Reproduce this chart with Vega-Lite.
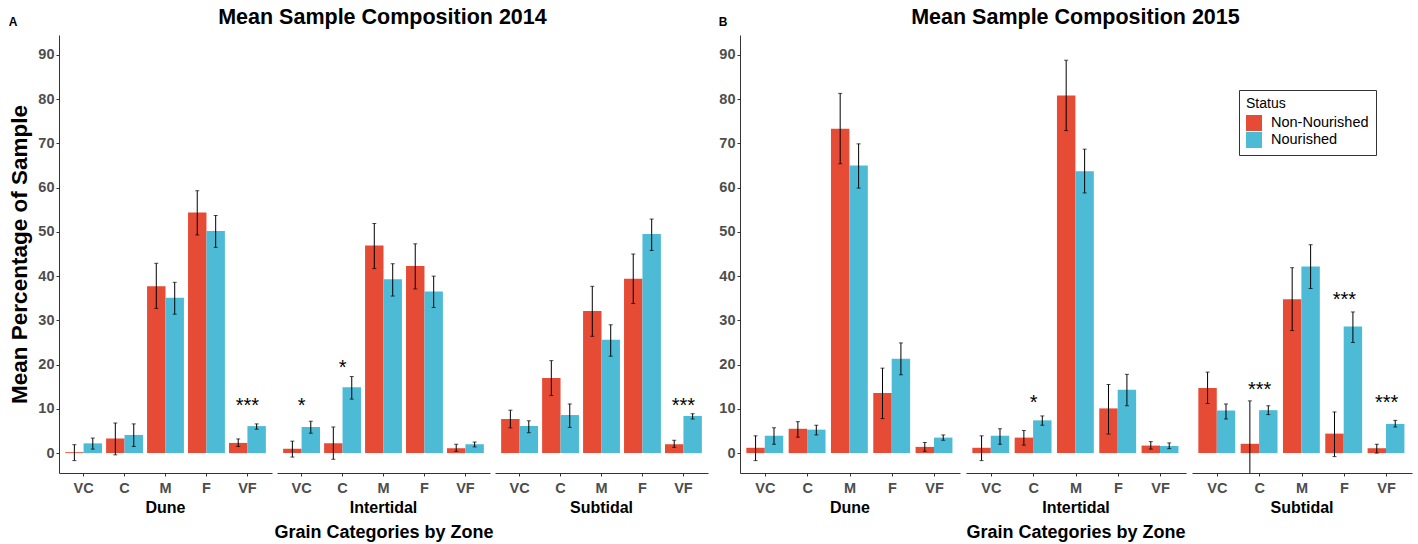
{
  "$schema": "https://vega.github.io/schema/vega-lite/v6.json",
  "padding": {"left": 8, "top": 6, "right": 4, "bottom": 0},
  "config": {
    "font": "Liberation Sans",
    "view": {"stroke": null},
    "axis": {"labelFont": "Liberation Sans", "labelFontWeight": "bold", "labelColor": "#4d4d4d", "labelFontSize": 14.5, "tickColor": "#333333", "tickSize": 3, "domainColor": "#333333", "grid": false, "titleFontWeight": "bold", "titleColor": "black", "titleFont": "Liberation Sans"},
    "title": {"font": "Liberation Sans", "fontWeight": "bold", "color": "black"},
    "header": {"labelFont": "Liberation Sans", "labelFontWeight": "bold", "labelFontSize": 16, "labelColor": "black", "labelOrient": "bottom", "titleOrient": "bottom", "titleFont": "Liberation Sans", "titleFontWeight": "bold", "titleFontSize": 18, "titleColor": "black", "labelPadding": 5, "titlePadding": -2}
  },
  "datasets": {
    "d": [
      {"panel": "A", "zone": "Dune", "grain": "VC", "status": "Non-Nourished", "mean": 0.2, "lo": -1.7, "hi": 1.9},
      {"panel": "A", "zone": "Dune", "grain": "VC", "status": "Nourished", "mean": 2.2, "lo": 0.9, "hi": 3.4},
      {"panel": "A", "zone": "Dune", "grain": "C", "status": "Non-Nourished", "mean": 3.3, "lo": -0.4, "hi": 6.8},
      {"panel": "A", "zone": "Dune", "grain": "C", "status": "Nourished", "mean": 4.1, "lo": 1.5, "hi": 6.6},
      {"panel": "A", "zone": "Dune", "grain": "M", "status": "Non-Nourished", "mean": 37.7, "lo": 32.7, "hi": 42.9},
      {"panel": "A", "zone": "Dune", "grain": "M", "status": "Nourished", "mean": 35.1, "lo": 31.4, "hi": 38.6},
      {"panel": "A", "zone": "Dune", "grain": "F", "status": "Non-Nourished", "mean": 54.4, "lo": 49.3, "hi": 59.3},
      {"panel": "A", "zone": "Dune", "grain": "F", "status": "Nourished", "mean": 50.2, "lo": 46.5, "hi": 53.7},
      {"panel": "A", "zone": "Dune", "grain": "VF", "status": "Non-Nourished", "mean": 2.3, "lo": 1.5, "hi": 3.2},
      {"panel": "A", "zone": "Dune", "grain": "VF", "status": "Nourished", "mean": 6.1, "lo": 5.4, "hi": 6.6},
      {"panel": "A", "zone": "Intertidal", "grain": "VC", "status": "Non-Nourished", "mean": 1.0, "lo": -0.9, "hi": 2.7},
      {"panel": "A", "zone": "Intertidal", "grain": "VC", "status": "Nourished", "mean": 5.9, "lo": 4.5, "hi": 7.2},
      {"panel": "A", "zone": "Intertidal", "grain": "C", "status": "Non-Nourished", "mean": 2.2, "lo": -1.4, "hi": 5.9},
      {"panel": "A", "zone": "Intertidal", "grain": "C", "status": "Nourished", "mean": 14.9, "lo": 12.2, "hi": 17.3},
      {"panel": "A", "zone": "Intertidal", "grain": "M", "status": "Non-Nourished", "mean": 46.9, "lo": 41.7, "hi": 51.9},
      {"panel": "A", "zone": "Intertidal", "grain": "M", "status": "Nourished", "mean": 39.3, "lo": 35.5, "hi": 42.8},
      {"panel": "A", "zone": "Intertidal", "grain": "F", "status": "Non-Nourished", "mean": 42.3, "lo": 37.1, "hi": 47.3},
      {"panel": "A", "zone": "Intertidal", "grain": "F", "status": "Nourished", "mean": 36.5, "lo": 32.9, "hi": 40.0},
      {"panel": "A", "zone": "Intertidal", "grain": "VF", "status": "Non-Nourished", "mean": 1.1, "lo": 0.4, "hi": 2.0},
      {"panel": "A", "zone": "Intertidal", "grain": "VF", "status": "Nourished", "mean": 2.0, "lo": 1.4, "hi": 2.5},
      {"panel": "A", "zone": "Subtidal", "grain": "VC", "status": "Non-Nourished", "mean": 7.7, "lo": 5.7, "hi": 9.7},
      {"panel": "A", "zone": "Subtidal", "grain": "VC", "status": "Nourished", "mean": 6.1, "lo": 4.6, "hi": 7.3},
      {"panel": "A", "zone": "Subtidal", "grain": "C", "status": "Non-Nourished", "mean": 17.0, "lo": 13.0, "hi": 20.9},
      {"panel": "A", "zone": "Subtidal", "grain": "C", "status": "Nourished", "mean": 8.6, "lo": 5.8, "hi": 11.1},
      {"panel": "A", "zone": "Subtidal", "grain": "M", "status": "Non-Nourished", "mean": 32.1, "lo": 26.4, "hi": 37.7},
      {"panel": "A", "zone": "Subtidal", "grain": "M", "status": "Nourished", "mean": 25.6, "lo": 21.9, "hi": 29.0},
      {"panel": "A", "zone": "Subtidal", "grain": "F", "status": "Non-Nourished", "mean": 39.4, "lo": 33.8, "hi": 45.0},
      {"panel": "A", "zone": "Subtidal", "grain": "F", "status": "Nourished", "mean": 49.5, "lo": 45.8, "hi": 52.9},
      {"panel": "A", "zone": "Subtidal", "grain": "VF", "status": "Non-Nourished", "mean": 2.0, "lo": 1.3, "hi": 2.9},
      {"panel": "A", "zone": "Subtidal", "grain": "VF", "status": "Nourished", "mean": 8.4, "lo": 7.7, "hi": 8.9},
      {"panel": "B", "zone": "Dune", "grain": "VC", "status": "Non-Nourished", "mean": 1.2, "lo": -1.7, "hi": 3.9},
      {"panel": "B", "zone": "Dune", "grain": "VC", "status": "Nourished", "mean": 3.9, "lo": 2.0, "hi": 5.7},
      {"panel": "B", "zone": "Dune", "grain": "C", "status": "Non-Nourished", "mean": 5.5, "lo": 3.6, "hi": 7.1},
      {"panel": "B", "zone": "Dune", "grain": "C", "status": "Nourished", "mean": 5.3, "lo": 4.1, "hi": 6.3},
      {"panel": "B", "zone": "Dune", "grain": "M", "status": "Non-Nourished", "mean": 73.3, "lo": 65.4, "hi": 81.3},
      {"panel": "B", "zone": "Dune", "grain": "M", "status": "Nourished", "mean": 65.0, "lo": 59.9, "hi": 69.9},
      {"panel": "B", "zone": "Dune", "grain": "F", "status": "Non-Nourished", "mean": 13.6, "lo": 7.8, "hi": 19.2},
      {"panel": "B", "zone": "Dune", "grain": "F", "status": "Nourished", "mean": 21.3, "lo": 17.7, "hi": 24.9},
      {"panel": "B", "zone": "Dune", "grain": "VF", "status": "Non-Nourished", "mean": 1.4, "lo": 0.4, "hi": 2.4},
      {"panel": "B", "zone": "Dune", "grain": "VF", "status": "Nourished", "mean": 3.5, "lo": 2.9, "hi": 4.1},
      {"panel": "B", "zone": "Intertidal", "grain": "VC", "status": "Non-Nourished", "mean": 1.2, "lo": -1.7, "hi": 3.9},
      {"panel": "B", "zone": "Intertidal", "grain": "VC", "status": "Nourished", "mean": 3.9, "lo": 2.0, "hi": 5.5},
      {"panel": "B", "zone": "Intertidal", "grain": "C", "status": "Non-Nourished", "mean": 3.5, "lo": 1.8, "hi": 5.1},
      {"panel": "B", "zone": "Intertidal", "grain": "C", "status": "Nourished", "mean": 7.4, "lo": 6.3, "hi": 8.4},
      {"panel": "B", "zone": "Intertidal", "grain": "M", "status": "Non-Nourished", "mean": 80.8, "lo": 72.9, "hi": 88.8},
      {"panel": "B", "zone": "Intertidal", "grain": "M", "status": "Nourished", "mean": 63.7, "lo": 58.8, "hi": 68.7},
      {"panel": "B", "zone": "Intertidal", "grain": "F", "status": "Non-Nourished", "mean": 10.1, "lo": 4.3, "hi": 15.5},
      {"panel": "B", "zone": "Intertidal", "grain": "F", "status": "Nourished", "mean": 14.3, "lo": 10.7, "hi": 17.8},
      {"panel": "B", "zone": "Intertidal", "grain": "VF", "status": "Non-Nourished", "mean": 1.7, "lo": 0.9, "hi": 2.6},
      {"panel": "B", "zone": "Intertidal", "grain": "VF", "status": "Nourished", "mean": 1.6, "lo": 1.0, "hi": 2.3},
      {"panel": "B", "zone": "Subtidal", "grain": "VC", "status": "Non-Nourished", "mean": 14.7, "lo": 11.2, "hi": 18.3},
      {"panel": "B", "zone": "Subtidal", "grain": "VC", "status": "Nourished", "mean": 9.6, "lo": 7.7, "hi": 11.1},
      {"panel": "B", "zone": "Subtidal", "grain": "C", "status": "Non-Nourished", "mean": 2.1, "lo": -7.6, "hi": 11.8},
      {"panel": "B", "zone": "Subtidal", "grain": "C", "status": "Nourished", "mean": 9.7, "lo": 8.7, "hi": 10.7},
      {"panel": "B", "zone": "Subtidal", "grain": "M", "status": "Non-Nourished", "mean": 34.8, "lo": 27.7, "hi": 41.9},
      {"panel": "B", "zone": "Subtidal", "grain": "M", "status": "Nourished", "mean": 42.2, "lo": 37.2, "hi": 47.1},
      {"panel": "B", "zone": "Subtidal", "grain": "F", "status": "Non-Nourished", "mean": 4.4, "lo": -0.8, "hi": 9.3},
      {"panel": "B", "zone": "Subtidal", "grain": "F", "status": "Nourished", "mean": 28.6, "lo": 25.0, "hi": 31.9},
      {"panel": "B", "zone": "Subtidal", "grain": "VF", "status": "Non-Nourished", "mean": 1.1, "lo": 0.0, "hi": 2.0},
      {"panel": "B", "zone": "Subtidal", "grain": "VF", "status": "Nourished", "mean": 6.6, "lo": 5.9, "hi": 7.4},
      {"panel": "A", "zone": "Dune", "grain": "VF", "star": "***", "sy": 11.8},
      {"panel": "A", "zone": "Intertidal", "grain": "VC", "star": "*", "sy": 11.8},
      {"panel": "A", "zone": "Intertidal", "grain": "C", "star": "*", "sy": 20.4},
      {"panel": "A", "zone": "Subtidal", "grain": "VF", "star": "***", "sy": 11.8},
      {"panel": "B", "zone": "Intertidal", "grain": "C", "star": "*", "sy": 12.4},
      {"panel": "B", "zone": "Subtidal", "grain": "C", "star": "***", "sy": 15.5},
      {"panel": "B", "zone": "Subtidal", "grain": "F", "star": "***", "sy": 35.7},
      {"panel": "B", "zone": "Subtidal", "grain": "VF", "star": "***", "sy": 12.4}
    ]
  },
  "resolve": {"legend": {"color": "independent"}},
  "spacing": 10,
  "hconcat": [
    {
      "title": {"text": "A", "anchor": "start", "fontSize": 12, "frame": "bounds", "offset": -22},
      "vconcat": [
        {
          "title": {"text": "Mean Sample Composition 2014", "fontSize": 21.5, "anchor": "middle", "dx": 24, "offset": 7},
          "data": {"name": "d"},
          "transform": [{"filter": "datum.panel == 'A'"}],
          "facet": {"column": {"field": "zone", "type": "nominal", "title": "Grain Categories by Zone"}},
          "spacing": 5,
          "spec": {
            "width": 213,
            "height": 438,
            "encoding": {
              "x": {"field": "grain", "type": "nominal", "sort": ["VC", "C", "M", "F", "VF"], "title": null, "scale": {"paddingInner": 0.1, "paddingOuter": 0.15}, "axis": {"labelAngle": 0, "labelPadding": 5}}
            },
            "layer": [
              {
                "transform": [{"filter": "isValid(datum.status)"}],
                "mark": {"type": "bar", "clip": true},
                "encoding": {
                  "y": {"field": "mean", "type": "quantitative", "title": "Mean Percentage of Sample", "scale": {"domain": [-4.5, 94.5], "nice": false, "zero": false}, "axis": {"values": [0, 10, 20, 30, 40, 50, 60, 70, 80, 90], "titleFontSize": 22.5, "titlePadding": 6, "labelPadding": 2}},
                  "y2": {"datum": 0},
                  "xOffset": {"field": "status", "type": "nominal", "sort": ["Non-Nourished", "Nourished"], "scale": {"paddingInner": 0, "paddingOuter": 0}},
                  "color": {"field": "status", "type": "nominal", "scale": {"domain": ["Non-Nourished", "Nourished"], "range": ["#E64B35", "#4DBBD5"]}, "legend": null}
                }
              },
              {
                "transform": [{"filter": "isValid(datum.status)"}],
                "mark": {"type": "rule", "clip": true, "color": "black", "strokeWidth": 1},
                "encoding": {
                  "y": {"field": "lo", "type": "quantitative", "title": "Mean Percentage of Sample"},
                  "y2": {"field": "hi"},
                  "xOffset": {"field": "status", "type": "nominal", "sort": ["Non-Nourished", "Nourished"]}
                }
              },
              {
                "transform": [{"filter": "isValid(datum.status)"}],
                "mark": {"type": "tick", "clip": true, "color": "black", "orient": "horizontal", "size": 4, "thickness": 1},
                "encoding": {
                  "y": {"field": "lo", "type": "quantitative", "title": "Mean Percentage of Sample"},
                  "xOffset": {"field": "status", "type": "nominal", "sort": ["Non-Nourished", "Nourished"]}
                }
              },
              {
                "transform": [{"filter": "isValid(datum.status)"}],
                "mark": {"type": "tick", "clip": true, "color": "black", "orient": "horizontal", "size": 4, "thickness": 1},
                "encoding": {
                  "y": {"field": "hi", "type": "quantitative", "title": "Mean Percentage of Sample"},
                  "xOffset": {"field": "status", "type": "nominal", "sort": ["Non-Nourished", "Nourished"]}
                }
              },
              {
                "transform": [{"filter": "isValid(datum.star)"}],
                "mark": {"type": "text", "fontSize": 20, "baseline": "alphabetic", "dy": 11, "color": "black", "font": "Liberation Sans"},
                "encoding": {
                  "y": {"field": "sy", "type": "quantitative", "title": "Mean Percentage of Sample"},
                  "text": {"field": "star"}
                }
              }
            ]
          }
        }
      ]
    },
    {
      "title": {"text": "B", "anchor": "start", "fontSize": 12, "frame": "bounds", "offset": -22},
      "vconcat": [
        {
          "title": {"text": "Mean Sample Composition 2015", "fontSize": 21.5, "anchor": "middle", "dx": 10, "offset": 7},
          "data": {"name": "d"},
          "transform": [{"filter": "datum.panel == 'B'"}],
          "facet": {"column": {"field": "zone", "type": "nominal", "title": "Grain Categories by Zone"}},
          "spacing": 6,
          "spec": {
            "width": 220,
            "height": 438,
            "encoding": {
              "x": {"field": "grain", "type": "nominal", "sort": ["VC", "C", "M", "F", "VF"], "title": null, "scale": {"paddingInner": 0.1, "paddingOuter": 0.15}, "axis": {"labelAngle": 0, "labelPadding": 5}}
            },
            "layer": [
              {
                "transform": [{"filter": "isValid(datum.status)"}],
                "mark": {"type": "bar", "clip": true},
                "encoding": {
                  "y": {"field": "mean", "type": "quantitative", "title": null, "scale": {"domain": [-4.5, 94.5], "nice": false, "zero": false}, "axis": {"values": [0, 10, 20, 30, 40, 50, 60, 70, 80, 90], "labelPadding": 2}},
                  "y2": {"datum": 0},
                  "xOffset": {"field": "status", "type": "nominal", "sort": ["Non-Nourished", "Nourished"], "scale": {"paddingInner": 0, "paddingOuter": 0}},
                  "color": {"field": "status", "type": "nominal", "title": "Status", "scale": {"domain": ["Non-Nourished", "Nourished"], "range": ["#E64B35", "#4DBBD5"]}, "legend": {"orient": "none", "legendX": 499, "legendY": 55, "strokeColor": "#333333", "fillColor": "white", "padding": 7, "symbolType": "square", "symbolSize": 256, "symbolStrokeWidth": 0, "symbolOpacity": 1, "labelFontSize": 14.5, "labelFont": "Liberation Sans", "labelColor": "black", "titleFontSize": 14, "titleFontWeight": "normal", "titleFont": "Liberation Sans", "titleColor": "black", "rowPadding": 1, "labelOffset": 9, "titlePadding": 4}}
                }
              },
              {
                "transform": [{"filter": "isValid(datum.status)"}],
                "mark": {"type": "rule", "clip": true, "color": "black", "strokeWidth": 1},
                "encoding": {
                  "y": {"field": "lo", "type": "quantitative", "title": null},
                  "y2": {"field": "hi"},
                  "xOffset": {"field": "status", "type": "nominal", "sort": ["Non-Nourished", "Nourished"]}
                }
              },
              {
                "transform": [{"filter": "isValid(datum.status)"}],
                "mark": {"type": "tick", "clip": true, "color": "black", "orient": "horizontal", "size": 4, "thickness": 1},
                "encoding": {
                  "y": {"field": "lo", "type": "quantitative", "title": null},
                  "xOffset": {"field": "status", "type": "nominal", "sort": ["Non-Nourished", "Nourished"]}
                }
              },
              {
                "transform": [{"filter": "isValid(datum.status)"}],
                "mark": {"type": "tick", "clip": true, "color": "black", "orient": "horizontal", "size": 4, "thickness": 1},
                "encoding": {
                  "y": {"field": "hi", "type": "quantitative", "title": null},
                  "xOffset": {"field": "status", "type": "nominal", "sort": ["Non-Nourished", "Nourished"]}
                }
              },
              {
                "transform": [{"filter": "isValid(datum.star)"}],
                "mark": {"type": "text", "fontSize": 20, "baseline": "alphabetic", "dy": 11, "color": "black", "font": "Liberation Sans"},
                "encoding": {
                  "y": {"field": "sy", "type": "quantitative", "title": null},
                  "text": {"field": "star"}
                }
              }
            ]
          }
        }
      ]
    }
  ]
}
